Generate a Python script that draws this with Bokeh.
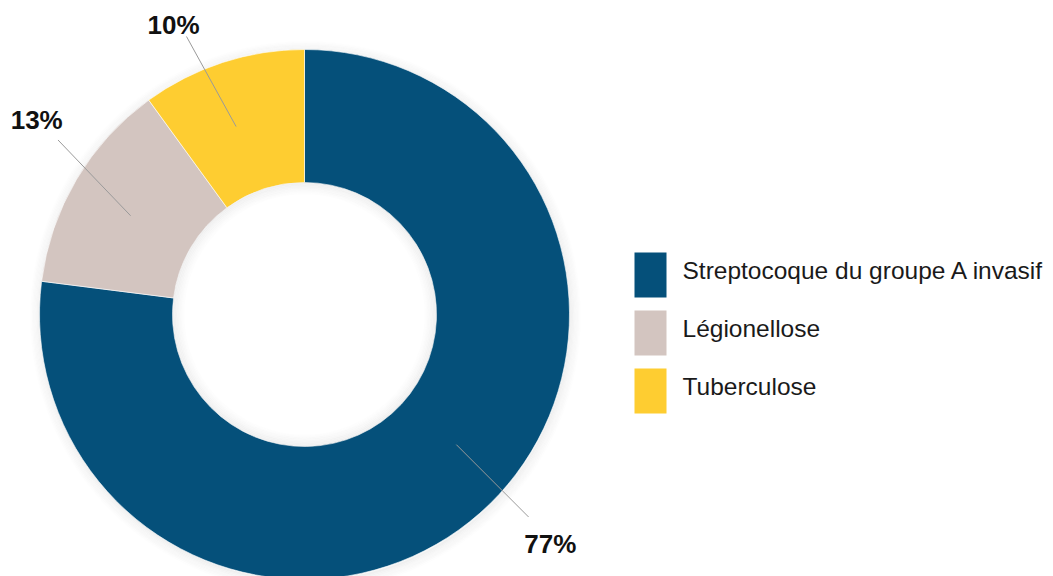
import math

from bokeh.plotting import figure
from bokeh.models import Range1d
from bokeh.core.properties import value
from bokeh.embed import file_html
from bokeh.resources import INLINE

# --- data -------------------------------------------------------------
categories = ["Streptocoque du groupe A invasif", "Légionellose", "Tuberculose"]
shares = [77, 13, 10]
colors = ["#05507A", "#D3C5C0", "#FECD31"]

# --- layout -----------------------------------------------------------
W, H = 1053, 576
CX, CY = 304, H - 314          # donut centre (y measured upwards)
R_OUT, R_IN = 265, 132
LEADER_IN_R, LEADER_OUT_R = 200, 302
leader_in_shift = [8.0, 1.0, 2.0]      # degrees added to each slice's mid angle
leader_out_shift = [6.5, -4.7, 5.0]
label_shift = [5.6, -5.4, 6.3]
label_r = [336, 331, 318]
LABEL_FONT = "Liberation Sans"

p = figure(width=W, height=H, x_range=Range1d(0, W), y_range=Range1d(0, H),
           output_backend="svg", toolbar_location=None, min_border=0,
           background_fill_color="white", border_fill_color="white")
p.axis.visible = False
p.grid.visible = False
p.outline_line_color = None

# soft drop shadow around the ring
for i in range(10):
    p.annular_wedge(x=CX + 1, y=CY - 2, inner_radius=R_OUT - 2 + i * 1.2,
                    outer_radius=R_OUT - 1 + (i + 1) * 1.2,
                    start_angle=0, end_angle=2 * math.pi,
                    fill_color="#000000", fill_alpha=0.035 * (1 - i / 10),
                    line_color=None)

# slices, clockwise from 12 o'clock
total = float(sum(shares))
starts, ends, mids = [], [], []
a = math.pi / 2
for s in shares:
    sweep = 2 * math.pi * s / total
    starts.append(a)
    ends.append(a - sweep)
    mids.append(a - sweep / 2)
    a -= sweep

p.annular_wedge(x=CX, y=CY, inner_radius=R_IN, outer_radius=R_OUT,
                start_angle=starts, end_angle=ends, direction="clock",
                fill_color=colors, line_color="white", line_width=0.6)

# inner shading of the hole
for i in range(8):
    p.annular_wedge(x=CX, y=CY, inner_radius=R_IN - (i + 1) * 1.5,
                    outer_radius=R_IN - i * 1.5 + 0.3,
                    start_angle=0, end_angle=2 * math.pi,
                    fill_color="#000000", fill_alpha=0.05 * (1 - i / 8),
                    line_color=None)

# leader lines and percentage labels
xs, ys, lx, ly, ltxt = [], [], [], [], []
for k, s in enumerate(shares):
    t_in = mids[k] + math.radians(leader_in_shift[k])
    t_out = mids[k] + math.radians(leader_out_shift[k])
    t_lab = mids[k] + math.radians(label_shift[k])
    xs.append([CX + LEADER_IN_R * math.cos(t_in), CX + LEADER_OUT_R * math.cos(t_out)])
    ys.append([CY + LEADER_IN_R * math.sin(t_in), CY + LEADER_OUT_R * math.sin(t_out)])
    lx.append(CX + label_r[k] * math.cos(t_lab))
    ly.append(CY + label_r[k] * math.sin(t_lab))
    ltxt.append(f"{s}%")

p.multi_line(xs=xs, ys=ys, line_color="#9A9A9A", line_width=1)
p.text(x=lx, y=ly, text=ltxt, text_font=value(LABEL_FONT), text_font_size="26px",
       text_font_style="bold", text_color="#111111", text_align="center",
       text_baseline="middle")

# legend
LEG_X, LEG_TOP, LEG_STEP = 634, H - 252, 58
SW_W, SW_H = 32, 45
for k, name in enumerate(categories):
    top = LEG_TOP - k * LEG_STEP
    p.quad(left=LEG_X, right=LEG_X + SW_W, top=top, bottom=top - SW_H,
           fill_color=colors[k], line_color=None)
    p.text(x=[LEG_X + 48], y=[top - 18], text=[name], text_font=value(LABEL_FONT),
           text_font_size="24.5px", text_color="#1A1A1A", text_align="left",
           text_baseline="alphabetic")

open("out.html", "w").write(file_html(p, INLINE))
